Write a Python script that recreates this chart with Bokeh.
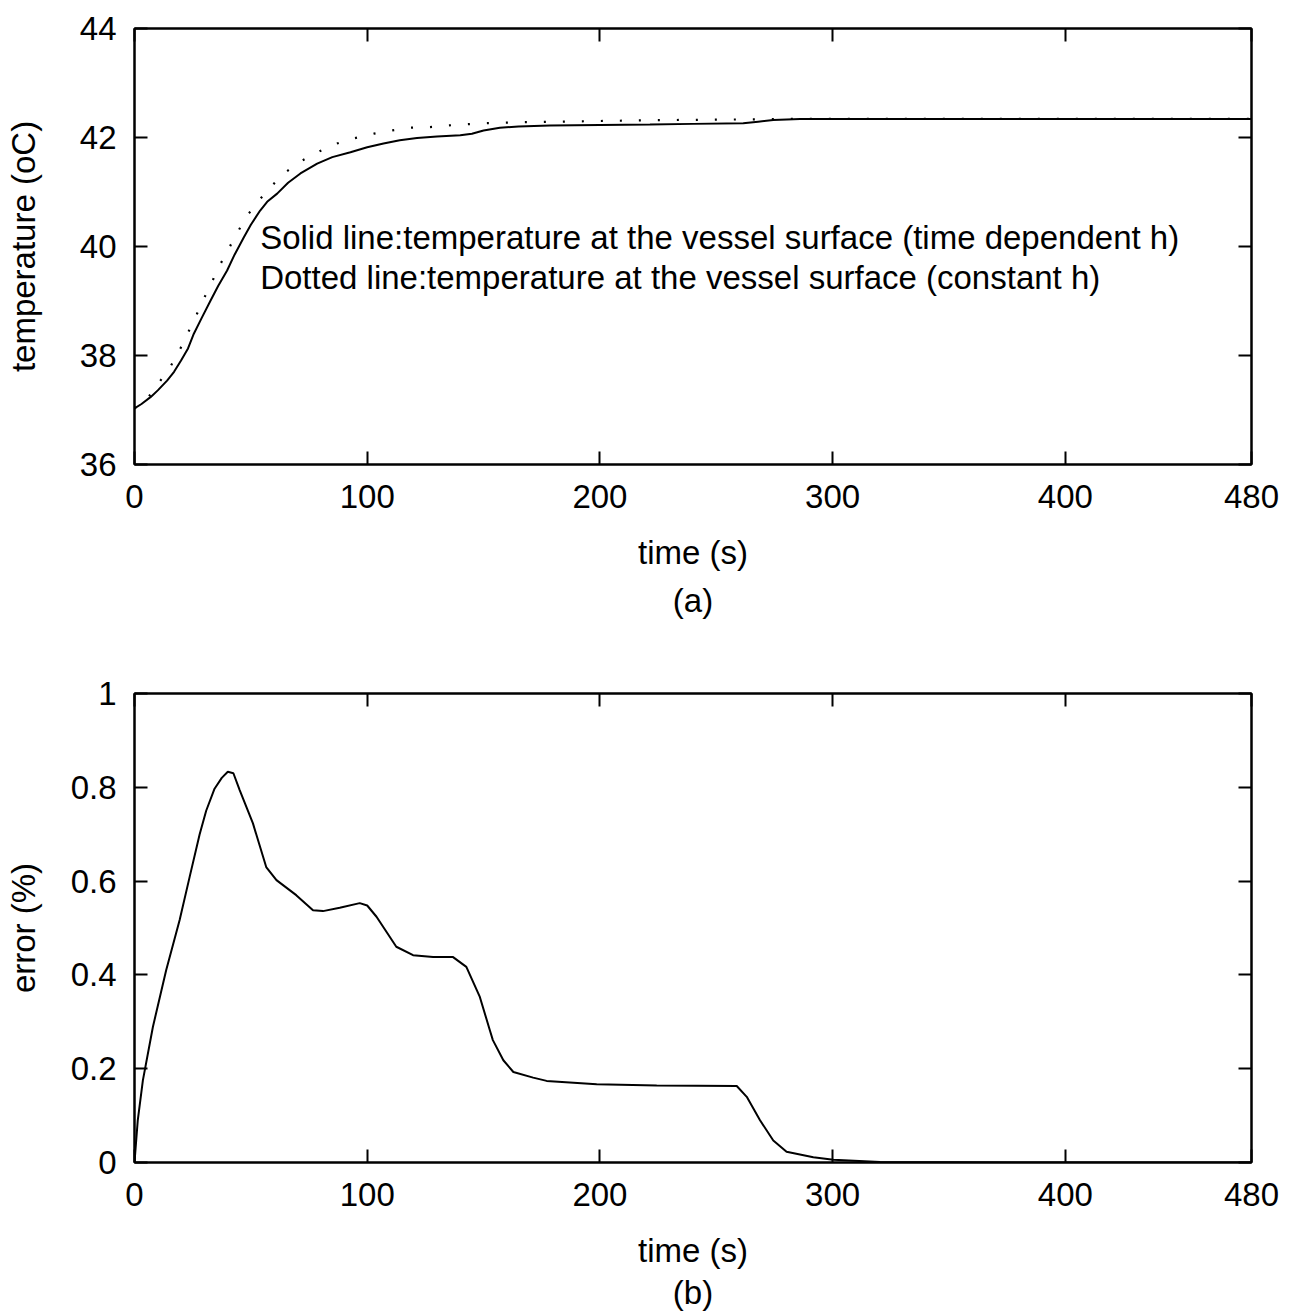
from bokeh.plotting import figure
from bokeh.layouts import column
from bokeh.models import (LinearAxis, FixedTicker, Range1d, Label, Title,
                          CustomJSTickFormatter)
from bokeh.embed import file_html
from bokeh.resources import INLINE

# ---------------- data ----------------
# (a) temperature at the vessel surface, time dependent h (solid)
t_solid = [0, 3, 7, 10, 14, 17, 20, 23, 25.5, 29, 32.7, 36, 39.8, 43, 47, 50, 54,
           57, 61.3, 66, 71.3, 78.5, 85, 92.8, 100, 107, 114, 121.4, 130, 140,
           145, 150, 157, 165, 178.5, 200, 221.5, 240, 261.6, 268, 274.5, 286,
           316, 400, 480]
T_solid = [37.03, 37.11, 37.24, 37.36, 37.54, 37.70, 37.91, 38.13, 38.40, 38.70,
           39.01, 39.28, 39.56, 39.85, 40.17, 40.40, 40.66, 40.82, 40.97, 41.17,
           41.34, 41.52, 41.64, 41.73, 41.82, 41.89, 41.95, 41.99, 42.02, 42.04,
           42.07, 42.13, 42.18, 42.20, 42.22, 42.23, 42.24, 42.25, 42.26, 42.29,
           42.32, 42.34, 42.34, 42.34, 42.34]

# (a) temperature at the vessel surface, constant h (dotted)
t_dot = [0, 6.2, 11, 15.5, 19.3, 22.9, 26.2, 29.3, 32.7, 35.8, 39.5, 43.1, 47,
         49, 53.8, 59.1, 64.8, 71.3, 78.2, 84.9, 92.8, 102.9, 110.8, 118.7,
         126.5, 134.4, 141.6, 148.8, 165.6, 195.7, 228.7, 257.3, 279, 480]
T_dot = [37.03, 37.25, 37.53, 37.80, 38.09, 38.41, 38.70, 39.00, 39.29, 39.59,
         39.88, 40.17, 40.47, 40.60, 40.86, 41.12, 41.36, 41.56, 41.72, 41.86,
         41.97, 42.07, 42.13, 42.18, 42.19, 42.22, 42.24, 42.26, 42.28, 42.30,
         42.32, 42.33, 42.34, 42.34]

# (b) error (%)
t_err = [0, 1.4, 3.6, 7.9, 13.6, 19.4, 23.7, 28, 30.8, 34.4, 37.5, 40.1, 42.5,
         45.2, 50.9, 56.6, 61, 69.5, 76.7, 81, 88.2, 96.8, 100, 104, 112.5,
         119.7, 128.3, 136.9, 142.6, 148.4, 152.7, 154, 158.5, 162.8, 171.3,
         177.1, 198.6, 224.4, 258.8, 263.1, 268.8, 274.5, 280.2, 291.7, 300.3,
         320.4, 350, 400, 480]
err = [0, 0.09, 0.175, 0.289, 0.41, 0.517, 0.609, 0.70, 0.75, 0.797, 0.82,
       0.833, 0.83, 0.794, 0.723, 0.63, 0.602, 0.57, 0.538, 0.536, 0.543, 0.553,
       0.548, 0.524, 0.46, 0.442, 0.438, 0.438, 0.417, 0.353, 0.282, 0.261,
       0.218, 0.193, 0.181, 0.174, 0.167, 0.164, 0.163, 0.14, 0.09, 0.047,
       0.023, 0.011, 0.006, 0.001, 0.0005, 0, 0]

x_ticks = [0, 100, 200, 300, 400, 480]
y_ticks_a = [36, 38, 40, 42, 44]
y_ticks_b = [0, 0.2, 0.4, 0.6, 0.8, 1]

FONT = "Liberation Sans"
FS = "33px"


def add_axes(p, xt, yt, xlabel, ylabel, ylab_standoff, yfmt=None):
    blank = CustomJSTickFormatter(code="return '';")
    common = dict(axis_line_color="black", axis_line_width=2,
                  major_tick_line_color="black", major_tick_line_width=2,
                  major_tick_in=13, major_tick_out=0,
                  minor_tick_line_color=None)
    xb = LinearAxis(ticker=FixedTicker(ticks=xt), axis_label=xlabel,
                    major_label_standoff=20, axis_label_standoff=23,
                    major_label_text_font=FONT, major_label_text_font_size=FS,
                    axis_label_text_font=FONT, axis_label_text_font_size=FS,
                    axis_label_text_font_style="normal",
                    major_label_text_color="black", axis_label_text_color="black",
                    **common)
    yl = LinearAxis(ticker=FixedTicker(ticks=yt), axis_label=ylabel,
                    major_label_standoff=18, axis_label_standoff=ylab_standoff,
                    major_label_text_font=FONT, major_label_text_font_size=FS,
                    axis_label_text_font=FONT, axis_label_text_font_size=FS,
                    axis_label_text_font_style="normal",
                    major_label_text_color="black", axis_label_text_color="black",
                    **common)
    if yfmt is not None:
        yl.formatter = yfmt
    xa = LinearAxis(ticker=FixedTicker(ticks=xt), formatter=blank,
                    major_label_text_font_size="0px", major_label_standoff=0,
                    **common)
    yr = LinearAxis(ticker=FixedTicker(ticks=yt), formatter=blank,
                    major_label_text_font_size="0px", major_label_standoff=0,
                    **common)
    p.add_layout(xb, "below")
    p.add_layout(yl, "left")
    p.add_layout(xa, "above")
    p.add_layout(yr, "right")


def make_fig(h, yr, top, bottom):
    p = figure(width=1288, height=h, x_range=Range1d(0, 480), y_range=yr,
               output_backend="svg", toolbar_location=None,
               x_axis_type=None, y_axis_type=None,
               min_border_left=134, min_border_right=37,
               min_border_top=top, min_border_bottom=bottom)
    p.xgrid.visible = False
    p.ygrid.visible = False
    p.outline_line_color = "black"
    p.outline_line_width = 2
    p.background_fill_color = "white"
    p.border_fill_color = "white"
    return p


# ---------------- figure (a) ----------------
pa = make_fig(648, Range1d(36, 44), 28, 184)
add_axes(pa, x_ticks, y_ticks_a, "time (s)", "temperature (oC)", 35)
pa.line(t_dot, T_dot, line_color="black", line_width=2.2, line_dash="2 17")
pa.line(t_solid, T_solid, line_color="black", line_width=2)
pa.add_layout(Label(x=54, y=40.17, text="Solid line:temperature at the vessel surface (time dependent h)",
                    text_font=FONT, text_font_size=FS, text_color="black",
                    text_baseline="middle", text_align="left"))
pa.add_layout(Label(x=54, y=39.43, text="Dotted line:temperature at the vessel surface (constant h)",
                    text_font=FONT, text_font_size=FS, text_color="black",
                    text_baseline="middle", text_align="left"))
pa.add_layout(Title(text="(a)", align="center", offset=25, standoff=12,
                    text_font=FONT, text_font_size=FS, text_font_style="normal",
                    text_color="black"), "below")

# ---------------- figure (b) ----------------
pb = make_fig(666, Range1d(0, 1), 45, 152)
yfmt = CustomJSTickFormatter(code="return String(tick);")
add_axes(pb, x_ticks, y_ticks_b, "time (s)", "error (%)", 26, yfmt=yfmt)
pb.line(t_err, err, line_color="black", line_width=2)
pb.add_layout(Title(text="(b)", align="center", offset=32, standoff=0,
                    text_font=FONT, text_font_size=FS, text_font_style="normal",
                    text_color="black"), "below")

layout = column(pa, pb, spacing=0)
open("out.html", "w").write(file_html(layout, INLINE))
